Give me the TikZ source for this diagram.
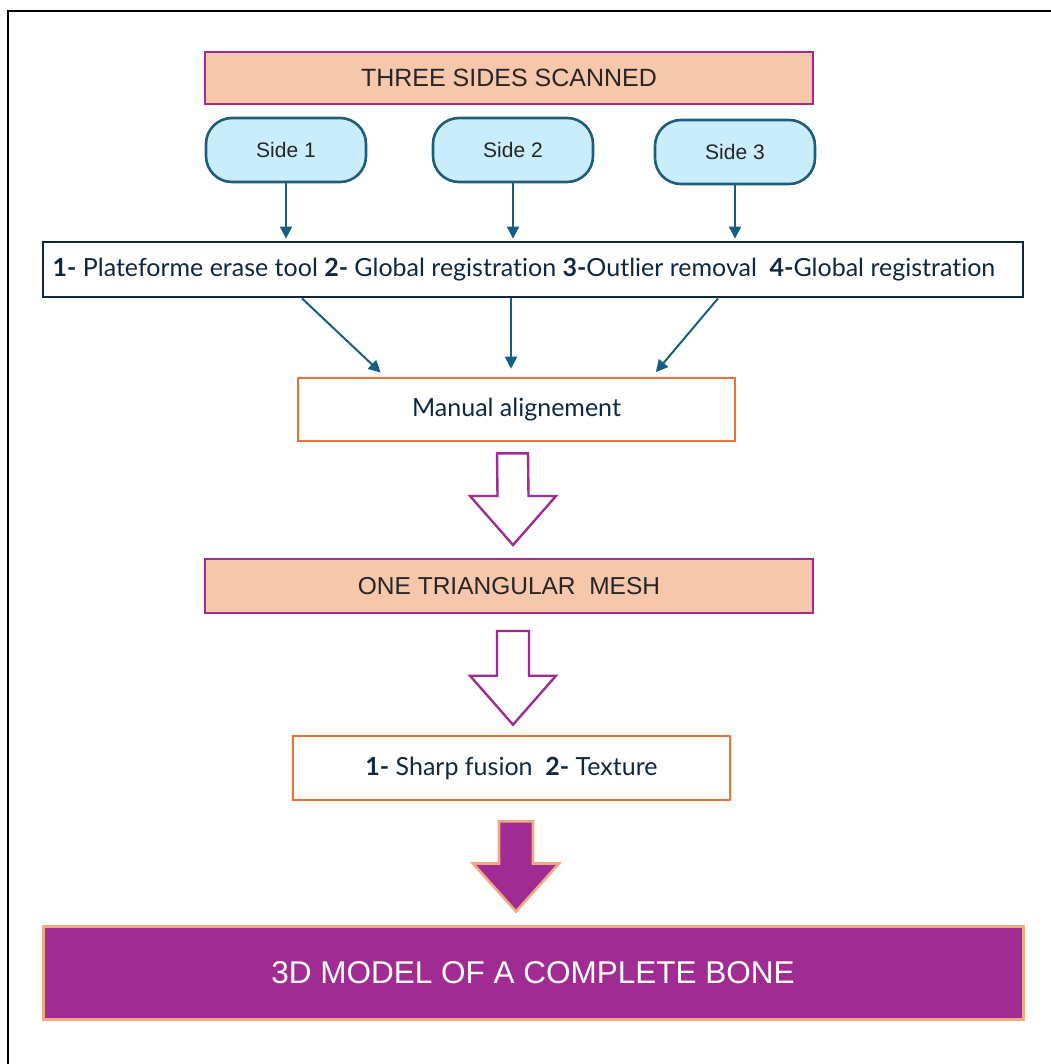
\documentclass[tikz,border=0pt]{standalone}
\usepackage{fontspec}
\setmainfont{Liberation Sans}
\newfontfamily\aptos[Ligatures=NoCommon]{Lato}
\usetikzlibrary{calc,arrows.meta}
\definecolor{peach}{HTML}{F7C7AC}
\definecolor{plum}{HTML}{A02B93}
\definecolor{skyfill}{HTML}{CAEDFB}
\definecolor{sideline}{HTML}{1E5E7A}
\definecolor{flowblue}{HTML}{156082}
\definecolor{navy}{HTML}{0E2841}
\definecolor{tangerine}{HTML}{E97132}
\definecolor{salmon}{HTML}{F1A983}
\definecolor{inkgray}{HTML}{262626}
% block arrow: #1 style, #2 top point, #3 tip, #4 half shaft, #5 half head, #6 head length
\newcommand{\blockarrow}[6]{
   \coordinate (ba-top) at (#2);
   \coordinate (ba-tip) at (#3);
   \draw[#1] ($(ba-top)+(-#4,0)$) -- ($(ba-top)+(#4,0)$)
      -- ($(ba-tip)+(#4,-#6)$) -- ($(ba-tip)+(#5,-#6)$) -- (ba-tip)
      -- ($(ba-tip)+(-#5,-#6)$) -- ($(ba-tip)+(-#4,-#6)$) -- cycle;
}

\begin{document}
\begin{tikzpicture}[x=1pt, y=-1pt,
   banner/.style={draw=plum, line width=2pt, fill=peach, text=inkgray,
      minimum width=608pt, font=\fontsize{25}{29}\selectfont},
   sidebox/.style={draw=sideline, line width=2.6pt, fill=skyfill, rounded corners=26pt,
      minimum width=160pt, minimum height=64pt, text=inkgray, font=\fontsize{21}{25}\selectfont},
   stepbox/.style={draw=tangerine, line width=2.6pt, fill=white, minimum width=437pt,
      minimum height=63pt, text=navy, font=\aptos\fontsize{25}{29}\selectfont},
   flow/.style={draw=flowblue, line width=2pt, -{Triangle[length=12pt, width=12pt]}},
   hollow/.style={draw=plum, line width=2.4pt, fill=white, line join=miter},
   solid/.style={draw=salmon, line width=2.6pt, fill=plum, line join=miter}]
		\useasboundingbox (0,0) rectangle (1050,1064);
		% Frame
		\draw[line width=2.5pt] (8,1070) -- (8,11) -- (1060,11);
		
		% Boxes
		\node[banner, minimum height=52pt] (scanned) at (509,78) {THREE SIDES SCANNED};
		\node[sidebox] (side1) at (286,150) {Side 1};
		\node[sidebox] (side2) at (513,150) {Side 2};
		\node[sidebox] (side3) at (735,152) {Side 3};
		\node[draw=navy, line width=2.8pt, fill=white, minimum width=980pt, minimum height=55pt,
			text=navy, font=\aptos\fontsize{25}{29}\selectfont] (process) at (533,269.5)
			{\textbf{1-} Plateforme erase tool \textbf{2-} Global registration \textbf{3-}Outlier removal\ \ \textbf{4-}Global registration\hspace*{18pt}};
		\node[stepbox] (manual) at (516.5,409.5) {Manual alignement};
		\node[banner, minimum height=54pt, font=\fontsize{24.5}{29}\selectfont] (mesh) at (509,586) {ONE TRIANGULAR\ \ MESH};
		\node[stepbox, minimum height=64pt] (fusion) at (511.5,768) {\textbf{1-} Sharp fusion\ \ \textbf{2-} Texture};
		\node[draw=salmon, line width=3pt, fill=plum, minimum width=980pt, minimum height=93pt,
			text=white, font=\fontsize{31.5}{36}\selectfont] (model) at (533,972.5) {3D MODEL OF A COMPLETE BONE};
		
		% Arrows
		\foreach \s in {side1,side2,side3}
		{
			\draw[flow, shorten >=2pt] (\s.south) -- (\s.south |- process.north);
		}
		\draw[flow, shorten >=6pt] (process.south -| 302,0) -- (manual.north -| 385,0);
		\draw[flow, shorten >=8pt] (process.south -| 511,0) -- (manual.north -| 511,0);
		\draw[flow, shorten >=6pt] (process.south -| 718,0) -- (manual.north -| 652,0);
		%% Block arrows
		\blockarrow{hollow}{$(manual.south)+(-4,11)$}{$(mesh.north)+(4,-13)$}{15.5}{43}{49}
		\blockarrow{hollow}{$(mesh.south)+(4,17)$}{$(fusion.north)+(1.5,-10)$}{16}{43}{49}
		\blockarrow{solid}{$(fusion.south)+(4.5,20)$}{$(model.north)+(-17,-13)$}{17}{43}{48}
	\end{tikzpicture}
\end{document}
